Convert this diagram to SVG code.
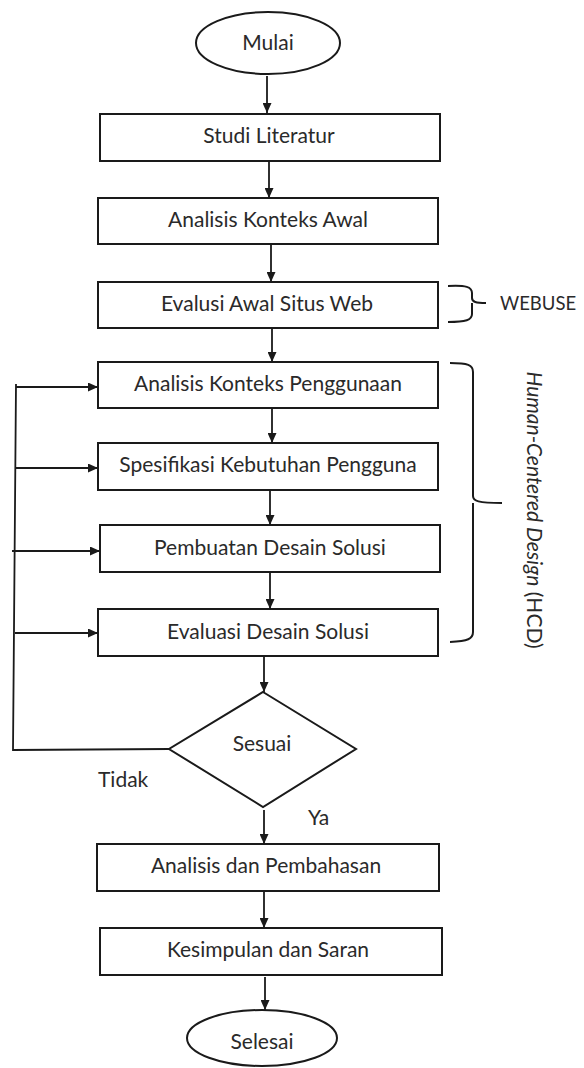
<svg xmlns="http://www.w3.org/2000/svg" width="584" height="1068" viewBox="0 0 584 1068">
<style>
.box{fill:#fff;stroke:#1a1a1a;stroke-width:2}
.t{font-family:Lato,"Liberation Sans",sans-serif;font-size:21px;fill:#2a2a2a;text-anchor:middle}
.tl{font-family:Lato,"Liberation Sans",sans-serif;font-size:21px;fill:#2a2a2a}
.ws{font-family:Lato,"Liberation Sans",sans-serif;font-size:18.5px;fill:#2a2a2a}
.c{fill:none;stroke:#1a1a1a;stroke-width:1.8}
.br{fill:none;stroke:#1a1a1a;stroke-width:2}
</style>
<defs>
<marker id="ah" markerUnits="userSpaceOnUse" markerWidth="10" markerHeight="9" refX="10" refY="4.5" orient="auto">
<path d="M0,0 L10,4.5 L0,9 z" fill="#1a1a1a"/>
</marker>
</defs>
<rect width="584" height="1068" fill="#fff"/>
<g id="mulai"><ellipse class="box" cx="268" cy="43" rx="72" ry="31"/><text class="t" x="268" y="50">Mulai</text></g>
<g id="studi"><rect class="box" x="100" y="114" width="340" height="47"/><text class="t" x="269" y="143">Studi Literatur</text></g>
<g id="aka"><rect class="box" x="98" y="198" width="340" height="46"/><text class="t" x="268" y="227">Analisis Konteks Awal</text></g>
<g id="evalusi"><rect class="box" x="98" y="282" width="340" height="46"/><text class="t" x="267" y="311">Evalusi Awal Situs Web</text></g>
<g id="akp"><rect class="box" x="98" y="362" width="340" height="46"/><text class="t" x="268" y="391">Analisis Konteks Penggunaan</text></g>
<g id="spes"><rect class="box" x="98" y="443" width="340" height="47"/><text class="t" x="268" y="472">Spesifikasi Kebutuhan Pengguna</text></g>
<g id="pemb"><rect class="box" x="100" y="525" width="340" height="47"/><text class="t" x="270" y="555">Pembuatan Desain Solusi</text></g>
<g id="evds"><rect class="box" x="98" y="609" width="340" height="47"/><text class="t" x="268" y="639">Evaluasi Desain Solusi</text></g>
<g id="sesuai"><polygon class="box" points="263,692 356,749 263,807 169,749"/><text class="t" x="262" y="751">Sesuai</text></g>
<g id="adp"><rect class="box" x="97" y="844" width="342" height="47"/><text class="t" x="266" y="873">Analisis dan Pembahasan</text></g>
<g id="kds"><rect class="box" x="100" y="928" width="342" height="47"/><text class="t" x="268" y="957">Kesimpulan dan Saran</text></g>
<g id="selesai"><ellipse class="box" cx="262" cy="1038" rx="75" ry="28"/><text class="t" x="262" y="1049">Selesai</text></g>
<g id="webuse"><path class="br" d="M448,286 C466,285 472,287 472,293 L472,298 C472,302 476,303 486,303 M472,303 C472,304 472,306 472,308 L472,314 C472,320 466,322 448,322"/><text class="ws" x="500" y="310">WEBUSE</text></g>
<g id="hcd"><path class="br" d="M450,363 C468,363 473,365 473,372 L473,496 C473,501 478,503 502,503 M473,503 L473,632 C473,639 468,641 450,642"/><text class="t" transform="translate(527,510) rotate(90)" x="0" y="0"><tspan font-style="italic">Human-Centered Design</tspan> (HCD)</text></g>
<g id="connectors">
<path class="c" d="M267,76 V113" marker-end="url(#ah)"/>
<path class="c" d="M269,161 V198" marker-end="url(#ah)"/>
<path class="c" d="M271,244 V282" marker-end="url(#ah)"/>
<path class="c" d="M272,328 V362" marker-end="url(#ah)"/>
<path class="c" d="M272,408 V443" marker-end="url(#ah)"/>
<path class="c" d="M270,490 V525" marker-end="url(#ah)"/>
<path class="c" d="M270,572 V609" marker-end="url(#ah)"/>
<path class="c" d="M264,656 V692" marker-end="url(#ah)"/>
<path class="c" d="M264,810 V844" marker-end="url(#ah)"/>
<path class="c" d="M264,892 V928" marker-end="url(#ah)"/>
<path class="c" d="M265,977 V1010" marker-end="url(#ah)"/>
<path class="c" d="M169,749 L13,750 L16,384"/>
<path class="c" d="M16,387 H98" marker-end="url(#ah)"/>
<path class="c" d="M16,468 H98" marker-end="url(#ah)"/>
<path class="c" d="M12,551 H100" marker-end="url(#ah)"/>
<path class="c" d="M15,633 H98" marker-end="url(#ah)"/>
<text class="tl" x="98" y="787">Tidak</text>
<text class="tl" x="308" y="825">Ya</text>
</g>
</svg>
